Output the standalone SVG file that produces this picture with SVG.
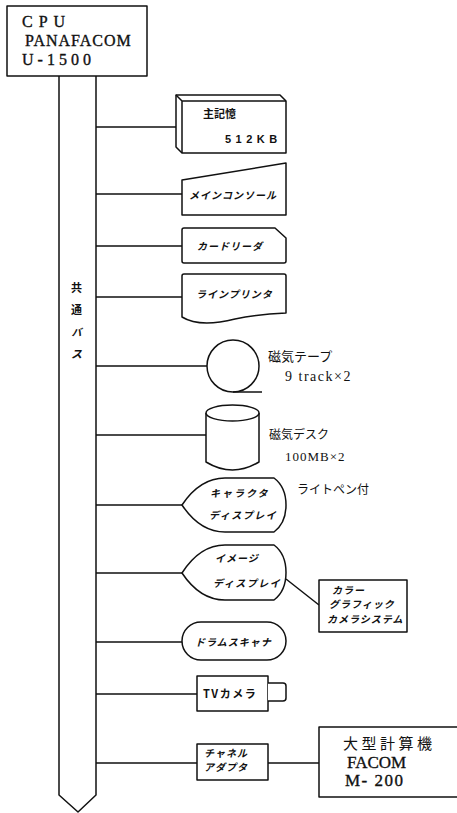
<svg xmlns="http://www.w3.org/2000/svg" width="457" height="813" viewBox="0 0 457 813">
<style>
.s{fill:#fff;stroke:#111;stroke-width:1.5;stroke-linejoin:round}
.l{fill:none;stroke:#111;stroke-width:1.5}
.jb{font-family:"Noto Sans CJK JP",sans-serif;font-weight:bold;font-size:10px;font-style:italic;letter-spacing:1px;fill:#111}
.jr{font-family:"Noto Sans CJK JP",sans-serif;font-size:12px;fill:#111}
.sr{font-family:"Liberation Serif",serif;font-size:14px;fill:#111}
.big{font-family:"Liberation Serif","Noto Sans CJK JP",serif;font-size:17px;fill:#111;stroke:#111;stroke-width:0.35}
</style>
<rect width="457" height="813" fill="#fff"/>
<g id="bus">
<path class="s" d="M59,76 L59,795 L78,812 L96,795 L96,76"/>
<text x="77" y="292" class="jb" text-anchor="middle" style="font-style:normal;font-size:11px">共</text>
<text x="77" y="314" class="jb" text-anchor="middle" style="font-style:normal;font-size:11px">通</text>
<text x="77" y="336" class="jb" text-anchor="middle" style="font-size:10px">バ</text>
<text x="77" y="358" class="jb" text-anchor="middle" style="font-size:11px">ス</text>
</g>
<g id="connectors">
<path class="l" d="M96,127H176 M96,194H182 M96,246H182 M96,297H182 M96,366H207 M96,435H206 M96,505H182 M96,573H182 M96,642H182 M96,694H197 M96,763H197 M268,763H319 M286,579L319,605"/>
</g>
<g id="cpu">
<rect class="s" x="7" y="6" width="140" height="70"/>
<text x="22" y="27" class="big" style="font-size:16px;letter-spacing:6px">CPU</text>
<text x="25" y="46" class="big" style="font-size:16px;letter-spacing:1px">PANAFACOM</text>
<text x="22" y="65" class="big" style="font-size:16px;letter-spacing:4px">U-1500</text>
</g>
<g id="memory">
<path class="s" d="M176,95 L280,95 L286,101 L286,153 L182,153 L176,147 Z"/>
<path class="l" d="M176,95 L182,101 L286,101 M182,101 L182,153"/>
<text x="203" y="118" class="jb" style="font-style:normal;font-size:11px;letter-spacing:0">主記憶</text>
<text x="225" y="143" style="font-family:'Liberation Sans',sans-serif;font-weight:bold;font-size:11px;letter-spacing:4.5px;fill:#111">512KB</text>
</g>
<g id="console">
<path class="s" d="M182,180 L286,163 L286,215 L182,215 Z"/>
<text x="189" y="199" class="jb">メインコンソール</text>
</g>
<g id="cardreader">
<path class="s" d="M182,230 Q182,228 184,228 L275,228 L286,238 L286,261 Q286,263 284,263 L184,263 Q182,263 182,261 Z"/>
<text x="197" y="250" class="jb">カードリーダ</text>
</g>
<g id="lineprinter">
<path class="s" d="M182,276 Q182,274 184,274 L284,274 Q286,274 286,276 L286,313 C265,314 250,316 235,319 C215,324 195,325 182,317 Z"/>
<text x="196" y="298" class="jb">ラインプリンタ</text>
</g>
<g id="tape">
<circle class="s" cx="233" cy="366" r="26"/>
<path class="l" d="M233,392 H262"/>
<text x="268" y="361" class="jr" style="font-size:13px">磁気テープ</text>
<text x="285" y="381" class="sr" style="letter-spacing:1.5px">9 track×2</text>
</g>
<g id="disk">
<path class="s" d="M206,413 L206,462 Q232.5,478 259,462 L259,413"/>
<ellipse class="s" cx="232.5" cy="413" rx="26.5" ry="8"/>
<text x="269" y="439" class="jr">磁気デスク</text>
<text x="285" y="461" class="sr" style="font-size:13px;letter-spacing:1px">100MB×2</text>
</g>
<g id="chardisplay">
<path class="s" d="M182,505 Q200,478 225,478 L274,478 C290,490 290,520 274,532 L225,532 Q200,532 182,505 Z"/>
<text x="210" y="497" class="jb" style="letter-spacing:2px">キャラクタ</text>
<text x="209" y="519" class="jb" style="letter-spacing:1.5px">ディスプレイ</text>
<text x="297" y="494" class="jr">ライトペン付</text>
</g>
<g id="imagedisplay">
<path class="s" d="M182,573 Q200,545 225,545 L274,545 C290,557 290,588 274,600 L225,600 Q200,600 182,573 Z"/>
<text x="215" y="562" class="jb">イメージ</text>
<text x="213" y="587" class="jb" style="letter-spacing:1.5px">ディスプレイ</text>
</g>
<g id="colorcamera">
<rect class="s" x="319" y="580" width="88" height="52"/>
<text x="332" y="594" class="jb">カラー</text>
<text x="329" y="608" class="jb">グラフィック</text>
<text x="327" y="623" class="jb">カメラシステム</text>
</g>
<g id="drumscanner">
<rect class="s" x="182" y="622" width="104" height="38" rx="19"/>
<text x="195" y="646" class="jb">ドラムスキャナ</text>
</g>
<g id="tvcamera">
<rect class="s" x="197" y="676" width="71" height="35"/>
<path class="s" d="M268,683 L283,683 Q286,683 286,686 L286,698 Q286,701 283,701 L268,701"/>
<text x="203" y="698" class="jb" style="font-style:normal;font-size:11px;letter-spacing:1.5px">TVカメラ</text>
</g>
<g id="channeladapter">
<rect class="s" x="197" y="744" width="71" height="36"/>
<text x="204" y="757" class="jb">チャネル</text>
<text x="204" y="771" class="jb">アダプタ</text>
</g>
<g id="mainframe">
<rect class="s" x="319" y="727" width="145" height="70"/>
<text x="343" y="749" class="big" style="font-family:'Noto Sans CJK JP',sans-serif;font-size:15px;letter-spacing:3.5px;stroke-width:0">大型計算機</text>
<text x="347" y="768" class="big">FACOM</text>
<text x="345" y="786" class="big" style="letter-spacing:1.5px">M- 200</text>
</g>
</svg>
